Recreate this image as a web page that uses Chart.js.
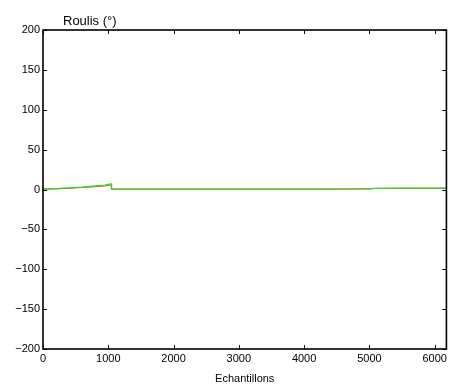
<!DOCTYPE html>
<html>
<head>
<meta charset="utf-8">
<script src="https://cdn.jsdelivr.net/npm/chart.js@4.4.1/dist/chart.umd.min.js"></script>
<style>
  html, body { margin: 0; padding: 0; background: #fff; }
  #wrap { width: 450px; height: 386px; }
</style>
</head>
<body>
<div id="wrap"><canvas id="roulis"></canvas></div>
<script>
// echantillons (x) and roll angle in degrees for both traces
const samples = [0, 200, 400, 600, 800, 950, 1000, 1030, 1045, 1050, 2000, 3000, 4000, 5000, 5080, 5500, 6000, 6180];
const rollGreen = [0.5, 1, 2, 3, 4.5, 5.5, 6.5, 7, 7, 0.5, 0.5, 0.5, 0.5, 0.8, 1.5, 1.6, 1.8, 1.8];
const rollRed = [0.5, 0.8, 1.5, 2.5, 3.5, 4.5, 5, 5.5, 5.5, 0.5, 0.5, 0.5, 0.5, 0.8, 1.3, 1.5, 1.6, 1.6];
const xTicks = [0, 1000, 2000, 3000, 4000, 5000, 6000];
const yTicks = [-200, -150, -100, -50, 0, 50, 100, 150, 200];

const font = { family: 'Liberation Sans, Arial, Helvetica, sans-serif', size: 11 };

const framePlugin = {
    id: 'frame',
    afterDraw(chart) {
        const c = chart.ctx;
        const a = chart.chartArea;
        const xs = chart.scales.x, ys = chart.scales.y;
        c.save();
        c.strokeStyle = '#000';
        c.lineWidth = 1.6;
        c.strokeRect(a.left, a.top, a.right - a.left, a.bottom - a.top);
        c.lineWidth = 1;
        c.beginPath();
        xTicks.forEach(v => {
            const px = Math.round(xs.getPixelForValue(v)) + 0.5;
            c.moveTo(px, a.bottom); c.lineTo(px, a.bottom - 4);
            c.moveTo(px, a.top); c.lineTo(px, a.top + 4);
        });
        yTicks.forEach(v => {
            const py = Math.round(ys.getPixelForValue(v)) + 0.5;
            c.moveTo(a.left, py); c.lineTo(a.left + 4, py);
            c.moveTo(a.right, py); c.lineTo(a.right - 4, py);
        });
        c.stroke();
        c.fillStyle = '#000';
        c.font = '13px ' + font.family;
        c.textAlign = 'left';
        c.textBaseline = 'alphabetic';
        c.fillText('Roulis (°)', 63, 25);
        c.restore();
    }
};

new Chart(document.getElementById('roulis'), {
    type: 'line',
    data: {
        datasets: [
            {
                data: samples.map((s, i) => ({ x: s, y: rollGreen[i] })),
                borderColor: '#22e022',
                borderWidth: 1.3,
                pointRadius: 0,
                tension: 0
            },
            {
                data: samples.map((s, i) => ({ x: s, y: rollRed[i] })),
                borderColor: '#ff3030',
                borderWidth: 1,
                pointRadius: 0,
                tension: 0
            }
        ]
    },
    options: {
        responsive: true,
        maintainAspectRatio: false,
        animation: false,
        layout: { padding: { top: 30, right: 3, left: 0, bottom: 0 } },
        plugins: { legend: { display: false }, tooltip: { enabled: false } },
        scales: {
            x: {
                type: 'linear',
                min: 0,
                max: 6180,
                afterBuildTicks: s => { s.ticks = xTicks.map(v => ({ value: v })); },
                afterFit: s => { s.height = 37; },
                grid: { display: false, drawTicks: false },
                border: { display: false },
                ticks: { color: '#000', font: font, padding: 3, maxRotation: 0, callback: v => String(v) },
                title: { display: true, text: 'Echantillons', color: '#000', font: font, padding: { top: 7, bottom: 0 } }
            },
            y: {
                min: -200,
                max: 200,
                afterBuildTicks: s => { s.ticks = yTicks.map(v => ({ value: v })); },
                afterFit: s => { s.width = 43; },
                grid: { display: false, drawTicks: false },
                border: { display: false },
                ticks: { color: '#000', font: font, padding: 3, callback: v => v < 0 ? '\u2212' + Math.abs(v) : String(v) }
            }
        }
    },
    plugins: [framePlugin]
});
</script>
</body>
</html>
